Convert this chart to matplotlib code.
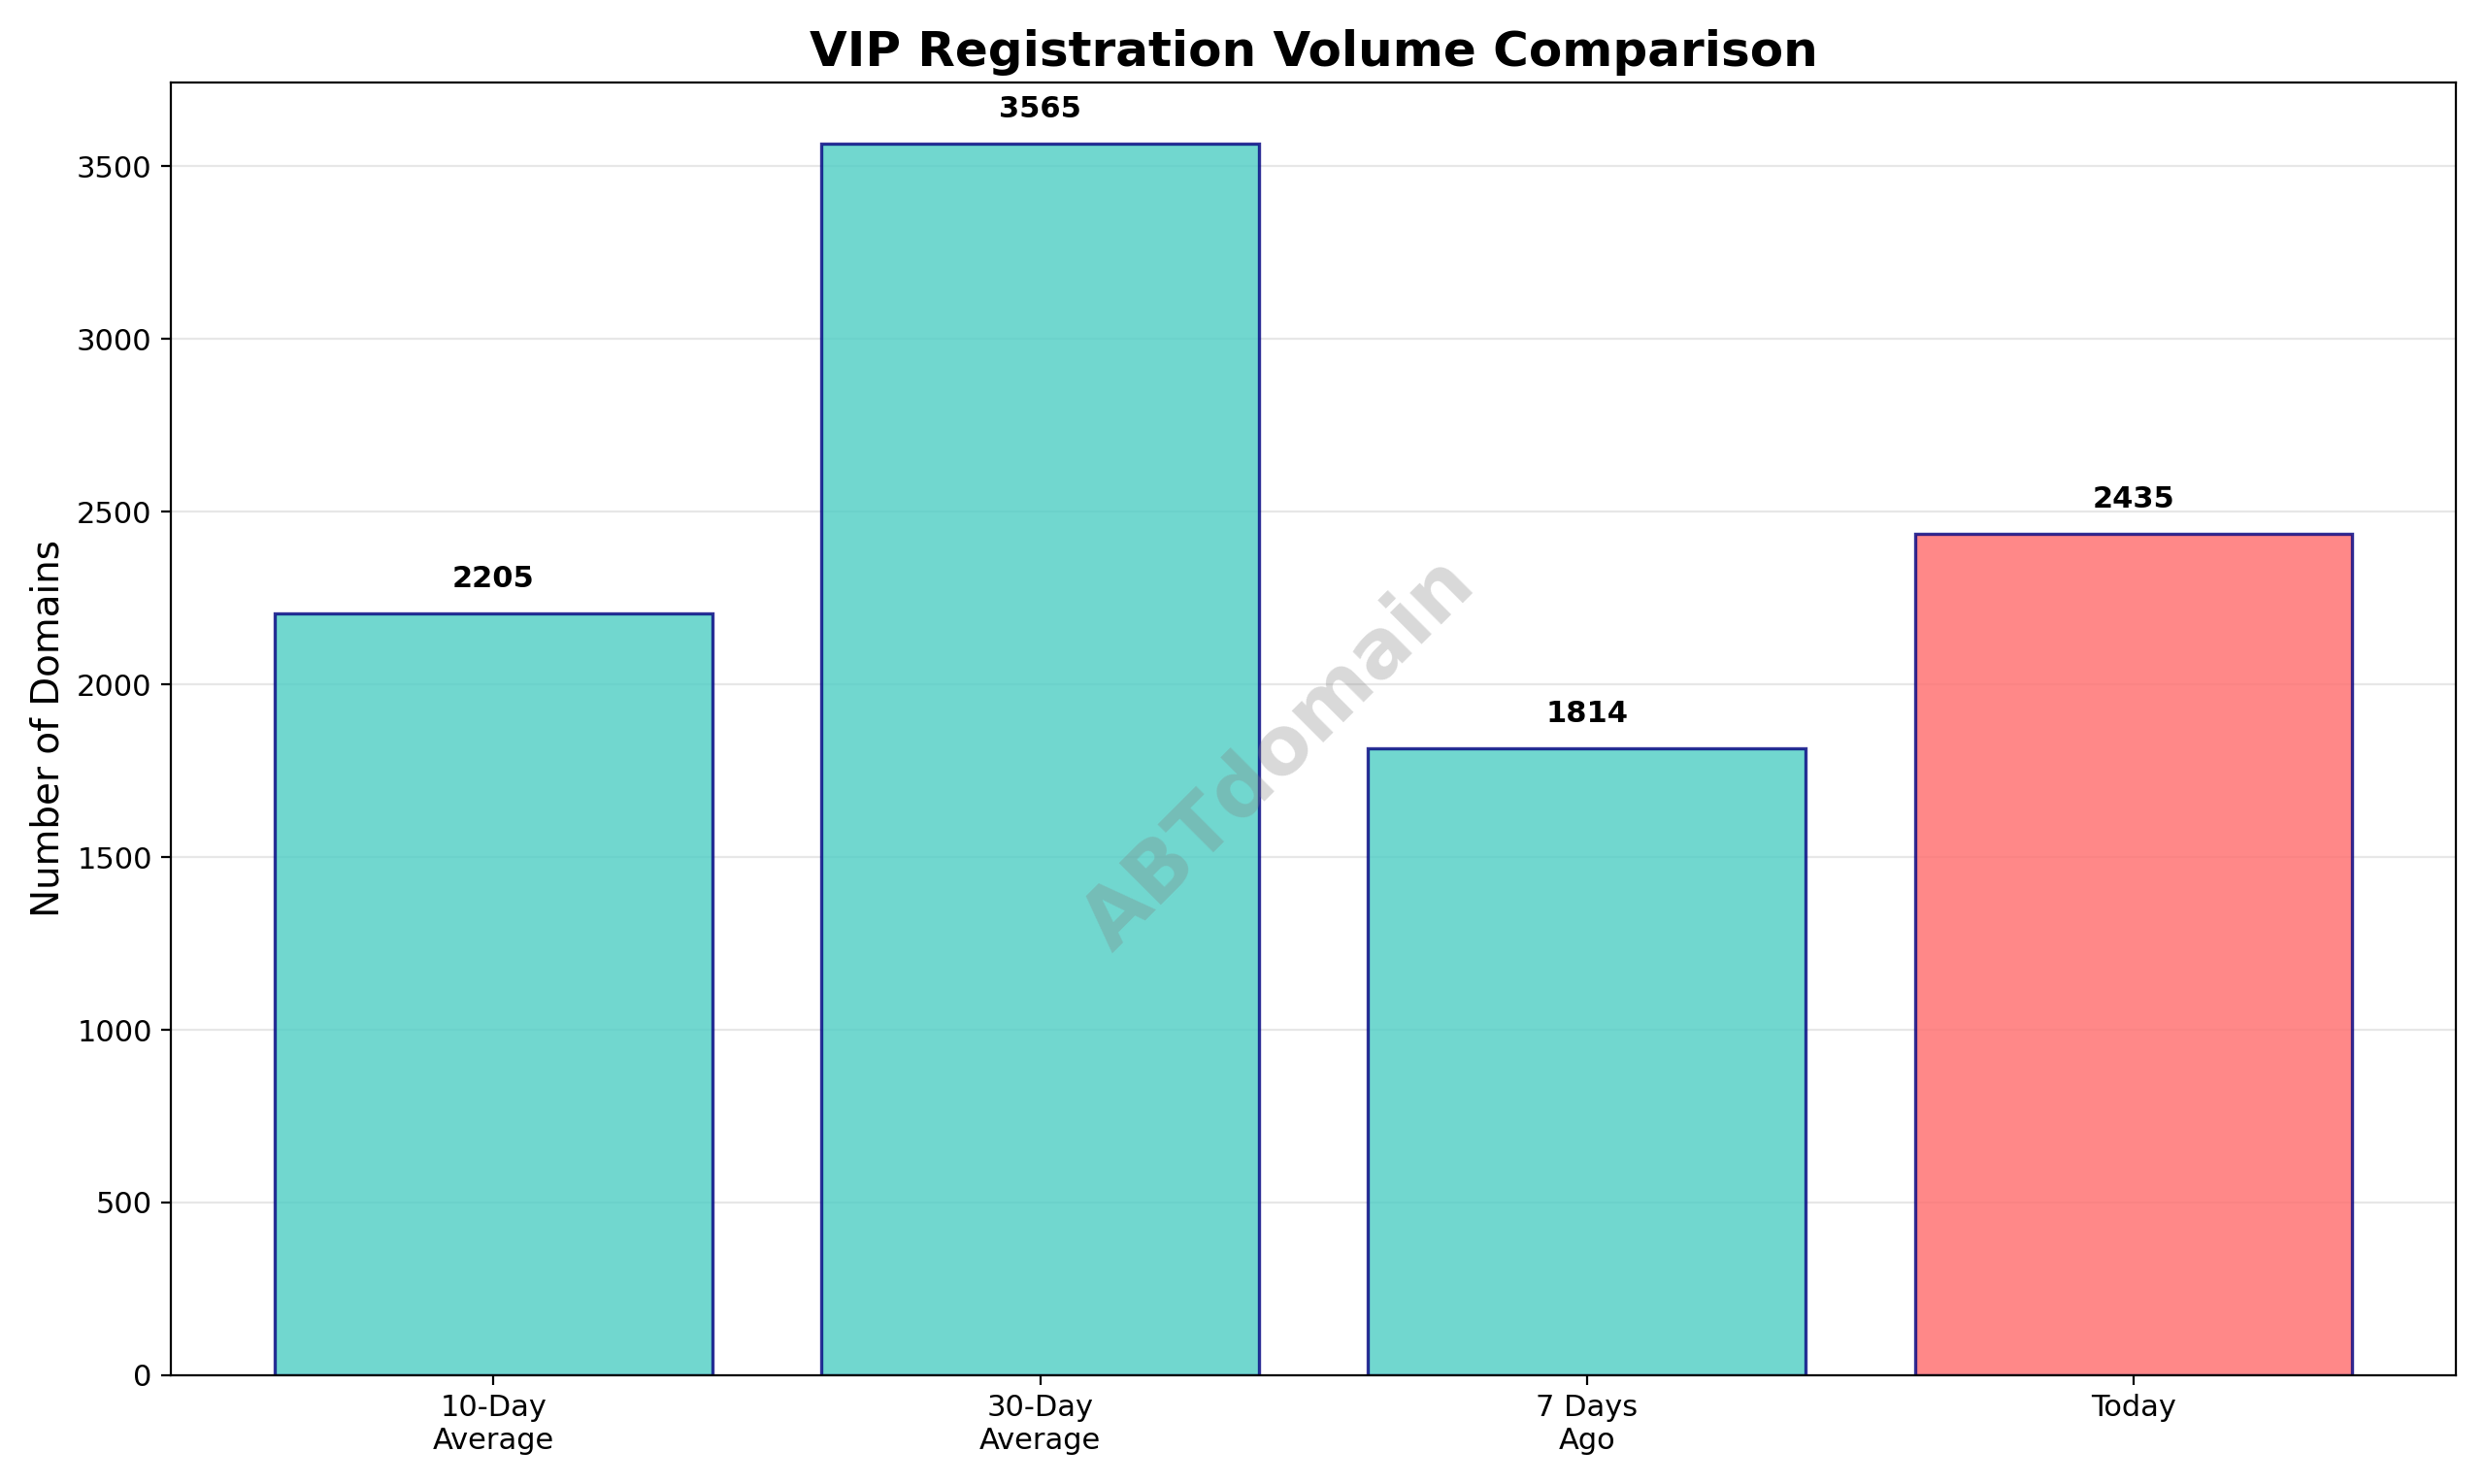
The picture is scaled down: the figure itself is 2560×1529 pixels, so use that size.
import matplotlib
matplotlib.use("Agg")
import matplotlib.pyplot as plt

# chart data
categories = ["10-Day\nAverage", "30-Day\nAverage", "7 Days\nAgo", "Today"]
volumes = [2205, 3565, 1814, 2435]
bar_colors = ["#4ECDC4", "#4ECDC4", "#4ECDC4", "#FF6B6B"]

fig, ax = plt.subplots(figsize=(12.8, 7.645), dpi=200)

bars = ax.bar(categories, volumes, color=bar_colors, alpha=0.8,
              edgecolor="navy", linewidth=1.2, width=0.8)

# value labels above bars
for bar, v in zip(bars, volumes):
    ax.text(bar.get_x() + bar.get_width() / 2, v + 60, str(v),
            ha="center", va="bottom", fontsize=11, fontweight="bold")

ax.set_title("VIP Registration Volume Comparison", fontsize=18, fontweight="bold")
ax.set_ylabel("Number of Domains", fontsize=14)
ax.tick_params(labelsize=11)
ax.set_ylim(0, 3743)
ax.yaxis.grid(True, alpha=0.3)
ax.set_axisbelow(True)

# watermark
ax.text(0.485, 0.48, "ABTdomain", transform=ax.transAxes, fontsize=30,
        fontweight="bold", color="gray", alpha=0.3, rotation=45,
        ha="center", va="center")

plt.tight_layout()
plt.savefig("out.png", dpi=200)
